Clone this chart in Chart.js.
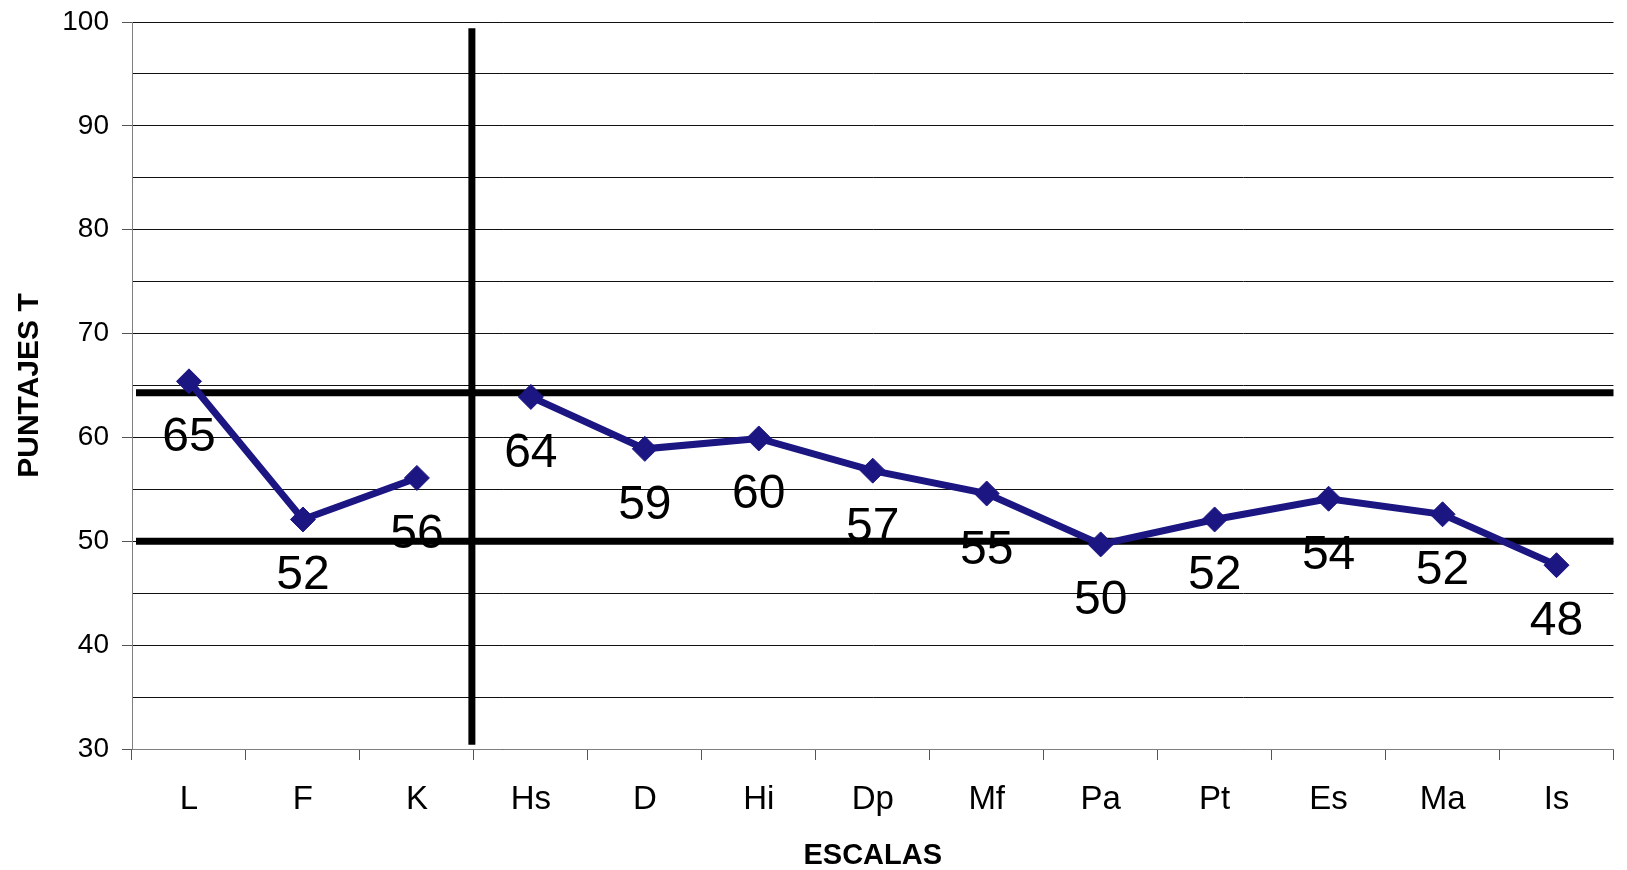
<!DOCTYPE html>
<html lang="es">
<head>
    <meta charset="UTF-8">
    <script src="https://cdn.jsdelivr.net/npm/chart.js"></script>
    <style>
        body { margin: 0; background: #fff; overflow: hidden; }
        #caja { width: 1627px; height: 870px; position: relative; }
    </style>
</head>
<body>
    <div id="caja"><canvas id="grafico"></canvas></div>
    <script>
        // Datos
        const escalas = ['L', 'F', 'K', 'Hs', 'D', 'Hi', 'Dp', 'Mf', 'Pa', 'Pt', 'Es', 'Ma', 'Is'];
        const puntajes = [65.4, 52.1, 56.1, 63.9, 58.9, 59.9, 56.8, 54.6, 49.7, 52.1, 54.1, 52.6, 47.7];
        const etiquetas = ['65', '52', '56', '64', '59', '60', '57', '55', '50', '52', '54', '52', '48'];
        // lineas de referencia (puntaje T) y divisor entre validez y clinicas
        const limites = [64.3, 50];
        const divisor = [2.5];
        const divisorRango = [30.4, 99.4];
        const cortes = [2]; // no se une K con Hs

        Chart.defaults.font.family = "'Liberation Sans', Arial, sans-serif";
        Chart.defaults.color = '#000';

        // dibuja las lineas gruesas negras usando las escalas
        const lineasRef = {
            id: 'lineasRef',
            beforeDatasetsDraw(chart) {
                const { ctx, chartArea, scales: { x, y } } = chart;
                ctx.save();
                ctx.strokeStyle = '#000';
                ctx.lineWidth = 7;
                limites.forEach(v => {
                    const py = y.getPixelForValue(v);
                    ctx.beginPath();
                    ctx.moveTo(chartArea.left + 4, py);
                    ctx.lineTo(chartArea.right, py);
                    ctx.stroke();
                });
                divisor.forEach(v => {
                    const px = x.getPixelForValue(v) - 2;
                    ctx.beginPath();
                    ctx.moveTo(px, y.getPixelForValue(divisorRango[1]));
                    ctx.lineTo(px, y.getPixelForValue(divisorRango[0]));
                    ctx.stroke();
                });
                ctx.restore();
            }
        };

        // etiquetas de valor debajo de cada punto
        const etiquetasValor = {
            id: 'etiquetasValor',
            afterDatasetsDraw(chart) {
                const { ctx } = chart;
                const meta = chart.getDatasetMeta(0);
                ctx.save();
                ctx.font = "48px 'Liberation Sans', Arial, sans-serif";
                ctx.fillStyle = '#000';
                ctx.textAlign = 'center';
                ctx.textBaseline = 'alphabetic';
                meta.data.forEach((pt, i) => {
                    ctx.fillText(etiquetas[i], pt.x, pt.y + 70);
                });
                ctx.restore();
            }
        };

        new Chart(document.getElementById('grafico'), {
            type: 'line',
            data: {
                labels: escalas,
                datasets: [{
                    label: 'Puntajes T',
                    data: puntajes,
                    borderColor: '#1c1682',
                    backgroundColor: '#1c1682',
                    borderWidth: 7,
                    tension: 0,
                    pointStyle: 'rectRot',
                    pointRadius: 12.5,
                    pointBorderWidth: 1,
                    segment: {
                        borderColor: c => (cortes.includes(c.p0DataIndex) ? 'rgba(0,0,0,0)' : undefined)
                    }
                }]
            },
            options: {
                responsive: true,
                maintainAspectRatio: false,
                animation: false,
                layout: { padding: { top: 22, right: 0, bottom: 0, left: 0 } },
                plugins: {
                    legend: { display: false },
                    tooltip: { enabled: false }
                },
                scales: {
                    x: {
                        offset: true,
                        grid: {
                            offset: true,
                            drawOnChartArea: false,
                            tickLength: 11,
                            tickColor: '#555'
                        },
                        border: { color: '#808080', width: 1 },
                        ticks: { font: { size: 33 }, padding: 20 },
                        title: {
                            display: true,
                            text: 'ESCALAS',
                            font: { size: 29, weight: 'bold' },
                            padding: { top: 0, bottom: -3 }
                        },
                        afterFit(s) { s.height = 121; }
                    },
                    y: {
                        min: 30,
                        max: 100,
                        ticks: {
                            stepSize: 5,
                            font: { size: 28 },
                            padding: 13,
                            callback: v => (v % 10 === 0 ? v : '')
                        },
                        grid: {
                            color: '#111',
                            lineWidth: 1,
                            tickLength: 10,
                            tickColor: c => (c.tick && c.tick.value % 10 === 0 ? '#555' : 'rgba(0,0,0,0)')
                        },
                        border: { color: '#808080', width: 1 },
                        title: {
                            display: true,
                            text: 'PUNTAJES T',
                            font: { size: 30, weight: 'bold' },
                            padding: { top: 12, bottom: 0 }
                        },
                        afterFit(s) {
                            s.width = 132;
                            s.paddingTop = 0;
                            s.paddingBottom = 0;
                        }
                    }
                }
            },
            plugins: [lineasRef, etiquetasValor]
        });
    </script>
</body>
</html>
